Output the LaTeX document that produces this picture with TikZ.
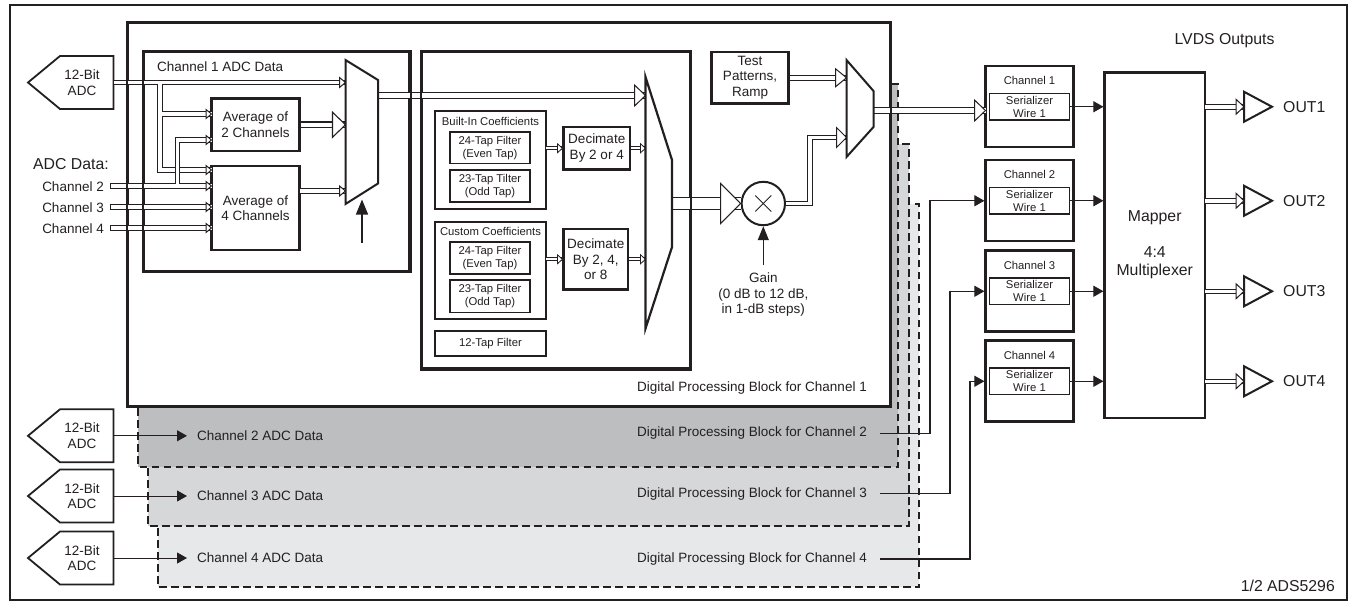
\documentclass[tikz,border=0pt]{standalone}
\usepackage{fontspec}
\setmainfont{Liberation Sans}
\usetikzlibrary{arrows.meta,calc}
\definecolor{ink}{HTML}{231F20}
\definecolor{wire}{HTML}{333333}
\definecolor{gtwo}{HTML}{BDBEC0}
\definecolor{gthree}{HTML}{D6D7D9}
\definecolor{gfour}{HTML}{E7E8E9}
\newcommand\fmid{\fontsize{13.5}{15.5}\selectfont}
\newcommand\fsml{\fontsize{11.3}{13.3}\selectfont}
\newcommand\flrg{\fontsize{15.8}{18.4}\selectfont}
% hollow arrow head: apex at #2, length #3, height #4
\newcommand\htip[4][1pt]{\draw[ink, fill=white, line width=#1, line join=miter] (#2) -- ++(-#3,#4/2) -- ++(0,-#4) -- cycle;}
\newcommand\adcpent[2]{%
  \draw[lw=1.8pt, fill=white, line join=miter] (28,#2) -- (60,#2-26.5) -- (113.5,#2-26.5) -- (113.5,#2+26.5) -- (60,#2+26.5) -- cycle;
  \node[mtxt] (#1) at (82,#2) {12-Bit\\ADC};
  \coordinate (#1o) at (113.5,#2);}
\tikzset{
  lw/.style={draw=ink, line width=#1},
  bx/.style={draw=ink, line width=#1, inner sep=0pt, align=center, text=ink},
  bus/.style={draw=ink, line width=#1, double=white},
  dd/.style={double distance=#1},
  mtxt/.style={text=ink, font=\fmid, inner sep=0pt, align=center},
  stxt/.style={text=ink, font=\fsml, inner sep=0pt, align=center},
  ltxt/.style={text=ink, font=\flrg, inner sep=0pt, align=center},
  sarrow/.style={draw=ink, line width=#1, -{Triangle[length=10pt,width=11pt]}},
  sarrow/.default=1pt,
  dblk/.style={draw=ink, line width=2pt, dash pattern=on 7.5pt off 4.5pt},
}
\begin{document}
\begin{tikzpicture}[x=1pt,y=-1pt]
\useasboundingbox (0,0) rectangle (1351,603);
\draw[lw=1.5pt] (10,5) rectangle (1347,600);
% stacked processing blocks
\draw[dblk, fill=gfour] (158,204) rectangle (919,587);
\draw[dblk, fill=gthree] (148,144) rectangle (908.5,526);
\draw[dblk, fill=gtwo] (138,84) rectangle (898,466.5);
\node[bx=2.4pt, fill=white, minimum width=762pt, minimum height=383pt] (blk1) at (509,214.5) {};
\node[mtxt, anchor=east] (dp1) at (867,388.5) {Digital Processing Block for Channel 1};
\node[mtxt, anchor=east] (dp2) at (867,433.5) {Digital Processing Block for Channel 2};
\node[mtxt, anchor=east] (dp3) at (867,493.5) {Digital Processing Block for Channel 3};
\node[mtxt, anchor=east] (dp4) at (867,559) {Digital Processing Block for Channel 4};
\node[mtxt, anchor=west] (cd2) at (197,435.8) {Channel 2 ADC Data};
\node[mtxt, anchor=west] (cd3) at (197,496) {Channel 3 ADC Data};
\node[mtxt, anchor=west] (cd4) at (197,558) {Channel 4 ADC Data};
% left labels
\node[ltxt, anchor=west] (adl) at (33,164) {ADC Data:};
\node[mtxt, anchor=east] (l2) at (104,186.5) {Channel 2};
\node[mtxt, anchor=east] (l3) at (104,207.5) {Channel 3};
\node[mtxt, anchor=east] (l4) at (104,228.5) {Channel 4};
% channel 1 ADC data block
\node[bx=2.2pt, minimum width=265.5pt, minimum height=219pt] (adcbox) at (276.75,161.5) {};
\node[mtxt, anchor=west] (c1d) at (157,67) {Channel 1 ADC Data};
\node[bx=2.2pt, font=\fmid, minimum width=88pt, minimum height=52.5pt] (avg2) at (255.5,124.75) {Average of\\2 Channels};
\node[bx=2.2pt, font=\fmid, minimum width=88pt, minimum height=84pt] (avg4) at (255.5,208) {Average of\\4 Channels};
% filter block
\node[bx=2.2pt, minimum width=268pt, minimum height=316.5pt] (fbox) at (556,210.25) {};
\node[bx=2pt, minimum width=111pt, minimum height=98pt] (bi) at (490.5,160) {};
\node[stxt] (bit) at (490.5,121.5) {Built-In Coefficients};
\node[bx=1.3pt, font=\fsml, minimum width=80pt, minimum height=31.5pt] (f1) at (490,147.75) {24-Tap Filter\\(Even Tap)};
\node[bx=1.3pt, font=\fsml, minimum width=80pt, minimum height=32pt] (f2) at (490,186) {23-Tap Tilter\\(Odd Tap)};
\node[bx=2pt, minimum width=111pt, minimum height=97pt] (cu) at (490.5,270.5) {};
\node[stxt] (cut) at (490.5,231.5) {Custom Coefficients};
\node[bx=1.3pt, font=\fsml, minimum width=80pt, minimum height=32pt] (f3) at (490,258) {24-Tap Filter\\(Even Tap)};
\node[bx=1.3pt, font=\fsml, minimum width=80pt, minimum height=32.5pt] (f4) at (490,296.25) {23-Tap Filter\\(Odd Tap)};
\node[bx=2pt, font=\fsml, minimum width=111pt, minimum height=25.5pt] (f5) at (490.5,343.25) {12-Tap Filter};
\node[bx=2.2pt, font=\fmid, minimum width=66.5pt, minimum height=42.5pt] (dec1) at (596.75,148.25) {Decimate\\By 2 or 4};
\node[bx=2.2pt, font=\fmid, minimum width=64.5pt, minimum height=60.5pt] (dec2) at (595.75,259.25) {Decimate\\By 2, 4,\\or 8};
% test patterns, gain
\node[bx=2.2pt, font=\fmid, minimum width=77pt, minimum height=51.5pt] (tp) at (750,77.75) {Test\\Patterns,\\Ramp};
\node[mtxt] (gt) at (763.3,295) {Gain\\(0 dB to 12 dB,\\in 1-dB steps)};
% serializers and mapper
\node[bx=2.2pt, minimum width=88pt, minimum height=81pt] (ser1) at (1029.5,106.5) {};
\node[bx=2.2pt, minimum width=88pt, minimum height=81pt] (ser2) at (1029.5,200.5) {};
\node[bx=2.2pt, minimum width=88pt, minimum height=81pt] (ser3) at (1029.5,291) {};
\node[bx=2.2pt, minimum width=88pt, minimum height=81pt] (ser4) at (1029.5,381) {};
\node[stxt] (t1) at (1029.5,80.5) {Channel 1};
\node[stxt] (t2) at (1029.5,174.5) {Channel 2};
\node[stxt] (t3) at (1029.5,265) {Channel 3};
\node[stxt] (t4) at (1029.5,355) {Channel 4};
\node[bx=1.2pt, font=\fsml, minimum width=80pt, minimum height=26.5pt] (s1i) at (1029.5,106.75) {Serializer\\Wire 1};
\node[bx=1.2pt, font=\fsml, minimum width=80pt, minimum height=26.5pt] (s2i) at (1029.5,200.75) {Serializer\\Wire 1};
\node[bx=1.2pt, font=\fsml, minimum width=80pt, minimum height=26.5pt] (s3i) at (1029.5,291.25) {Serializer\\Wire 1};
\node[bx=1.2pt, font=\fsml, minimum width=80pt, minimum height=26.5pt] (s4i) at (1029.5,381.25) {Serializer\\Wire 1};
\node[bx=2.2pt, minimum width=100.5pt, minimum height=345.5pt] (mapper) at (1154.75,245.25) {};
\node[ltxt] (mpt) at (1154.75,218) {Mapper};
\node[ltxt] (mpt2) at (1154.75,262.5) {4:4\\Multiplexer};
\node[ltxt] (lvds) at (1224.5,41) {LVDS Outputs};
\node[ltxt, anchor=east] (part) at (1335,586) {1/2 ADS5296};
% multiplier
\node[circle, draw=ink, line width=2pt, minimum size=43.4pt, inner sep=0pt] (mul) at (763.3,203.5) {};
% coordinates
\coordinate (j1) at (160,82.5); \coordinate (j2) at (160,114); \coordinate (j3) at (160,170);
\coordinate (j4) at (177.5,186); \coordinate (j5) at (177.5,140);
\coordinate (a2a) at (211.5,114); \coordinate (a2b) at (211.5,140);
\coordinate (a4a) at (211.5,170); \coordinate (a4b) at (211.5,186);
\coordinate (a4c) at (211.5,207); \coordinate (a4d) at (211.5,228);
\coordinate (c2s) at (110,186); \coordinate (c3s) at (110,207); \coordinate (c4s) at (110,228);
\coordinate (m1a) at (345.5,82.5); \coordinate (m1b) at (345.5,124.75); \coordinate (m1c) at (345.5,191);
\coordinate (a4o) at (299.5,191);
\coordinate (m1o) at (378,95.5); \coordinate (bma) at (645.5,95.5);
\coordinate (bio) at (546,148.25); \coordinate (bmb) at (645.5,148.25);
\coordinate (cuo) at (546,259.25); \coordinate (bmc) at (645.5,259.25);
\coordinate (bmo) at (672,203.5);
\coordinate (k1) at (810,203.5); \coordinate (k2) at (810,137.5); \coordinate (m2b) at (846.5,137.5);
\coordinate (m2a) at (846.5,77.75);
\coordinate (m2o) at (873.5,110.5); \coordinate (s1a) at (985.5,110.5);
\coordinate (sel1) at (362,243); \coordinate (sel1e) at (362,199.5);
\coordinate (gn) at (763.3,265);
\coordinate (r2) at (930,200.75); \coordinate (r3) at (950,291.25); \coordinate (r4) at (970,381.25);
\foreach \i/\yy in {1/106.75,2/200.75,3/291.25,4/381.25}{
  \coordinate (mp\i) at (1205,\yy); \coordinate (bf\i) at (1244,\yy);}
% ADC pentagons
\adcpent{adcA}{82.5}
\adcpent{adcB}{435.8}
\adcpent{adcC}{496}
\adcpent{adcD}{558}
\draw[sarrow] (adcBo) -- ([xshift=-10pt]cd2.west);
\draw[sarrow] (adcCo) -- ([xshift=-10pt]cd3.west);
\draw[sarrow] (adcDo) -- ([xshift=-10pt]cd4.west);
% buses
\draw[bus=1pt, dd=3.4pt] (adcAo) -- (m1a) (j1) -- (j3) -- (a4a) (j2) -- (a2a);
\draw[bus=1pt, dd=3.4pt] (c2s) -- (a4b) (j4) -- (j5) -- (a2b);
\draw[bus=1pt, dd=3.4pt] (c3s) -- (a4c);
\draw[bus=1pt, dd=3.4pt] (c4s) -- (a4d);
\foreach \c in {c2s,c3s,c4s}{\draw[lw=1pt] ([yshift=2.7pt]\c) -- ([yshift=-2.7pt]\c);}
\draw[bus=1.2pt, dd=4.5pt] (avg2.east) -- (m1b);
\draw[bus=1pt, dd=3.4pt] (a4o) -- (m1c);
\draw[bus=1.1pt, dd=4.4pt] (m1o) -- (bma);
\draw[bus=0.8pt, dd=2.4pt] (bio) -- (dec1.west);
\draw[bus=0.8pt, dd=2.4pt] (dec1.east) -- (bmb);
\draw[bus=0.8pt, dd=2.4pt] (cuo) -- (dec2.west);
\draw[bus=0.8pt, dd=2.4pt] (dec2.east) -- (bmc);
\draw[bus=1.2pt, dd=11pt] (bmo) -- (mul.west);
\draw[bus=1pt, dd=3.6pt] (mul.east) -- (k1) -- (k2) -- (m2b);
\draw[bus=1pt, dd=4pt] (tp.east) -- (m2a);
\draw[bus=1.1pt, dd=4.5pt] (m2o) -- (s1a);
\foreach \i in {1,2,3,4}{\draw[bus=1pt, dd=3.5pt] (mp\i) -- (bf\i);}
% hollow heads
\htip{m1a}{6}{10}
\htip{a2a}{5.5}{9} \htip{a2b}{5.5}{9}
\htip{a4a}{5.5}{9} \htip{a4b}{5.5}{9} \htip{a4c}{5.5}{9} \htip{a4d}{5.5}{9}
\htip[1.1pt]{m1b}{13}{25}
\htip{m1c}{6}{10}
\htip{bma}{11}{21}
\htip[0.8pt]{dec1.west}{5}{9} \htip[0.8pt]{bmb}{5}{9}
\htip[0.8pt]{dec2.west}{5}{9} \htip[0.8pt]{bmc}{5}{9}
\htip[1.1pt]{mul.west}{20}{40}
\htip{m2b}{10}{20}
\htip{m2a}{11}{18}
\htip{s1a}{11}{21}
\foreach \i in {1,2,3,4}{\htip{bf\i}{8}{15}}
% borders over the buses
\draw[lw=2.4pt] (blk1.north west) rectangle (blk1.south east);
\draw[lw=2.2pt] (adcbox.north west) rectangle (adcbox.south east);
\draw[lw=2.2pt] (fbox.north west) rectangle (fbox.south east);
% muxes
\draw[lw=2pt, fill=white, line join=miter] (345.5,60) -- (378,80) -- (378,183.5) -- (345.5,204) -- cycle;
\draw[lw=2.2pt, fill=white, line join=miter] (645.5,77) -- (672,160) -- (672,247) -- (645.5,328.5) -- cycle;
\draw[lw=2pt, fill=white, line join=miter] (846.5,60) -- (873.5,91) -- (873.5,127) -- (846.5,157) -- cycle;
\draw[lw=1.3pt, -{Triangle[length=15pt,width=12pt]}] (sel1) -- (sel1e);
% multiplier detail and gain
\draw[lw=0.9pt] ([shift={(-8pt,8pt)}]mul.center) -- ([shift={(8pt,-8pt)}]mul.center);
\draw[lw=0.9pt] ([shift={(-8pt,-8pt)}]mul.center) -- ([shift={(8pt,8pt)}]mul.center);
\draw[lw=1.2pt, -{Triangle[length=14pt,width=11pt]}] (gn) -- (mul.south);
% serializer to mapper
\draw[sarrow] (s1i.east) -- (s1i.east -| mapper.west);
\draw[sarrow] (s2i.east) -- (s2i.east -| mapper.west);
\draw[sarrow] (s3i.east) -- (s3i.east -| mapper.west);
\draw[sarrow] (s4i.east) -- (s4i.east -| mapper.west);
% channel 2-4 routing
\draw[sarrow=1.1pt] ([xshift=13pt]dp2.east) -| (r2) -- (ser2.west |- r2);
\draw[sarrow=1.1pt] ([xshift=13pt]dp3.east) -| (r3) -- (ser3.west |- r3);
\draw[sarrow=1.1pt] ([xshift=13pt]dp4.east) -| (r4) -- (ser4.west |- r4);
% output buffers
\foreach \i in {1,2,3,4}{
  \draw[lw=2pt, fill=white, line join=miter] (bf\i) -- ++(0,-15) -- ++(28,15) -- ++(-28,15) -- cycle;
  \node[ltxt, anchor=west] (o\i) at ([xshift=39pt]bf\i) {OUT\i};}
\end{tikzpicture}
\end{document}
